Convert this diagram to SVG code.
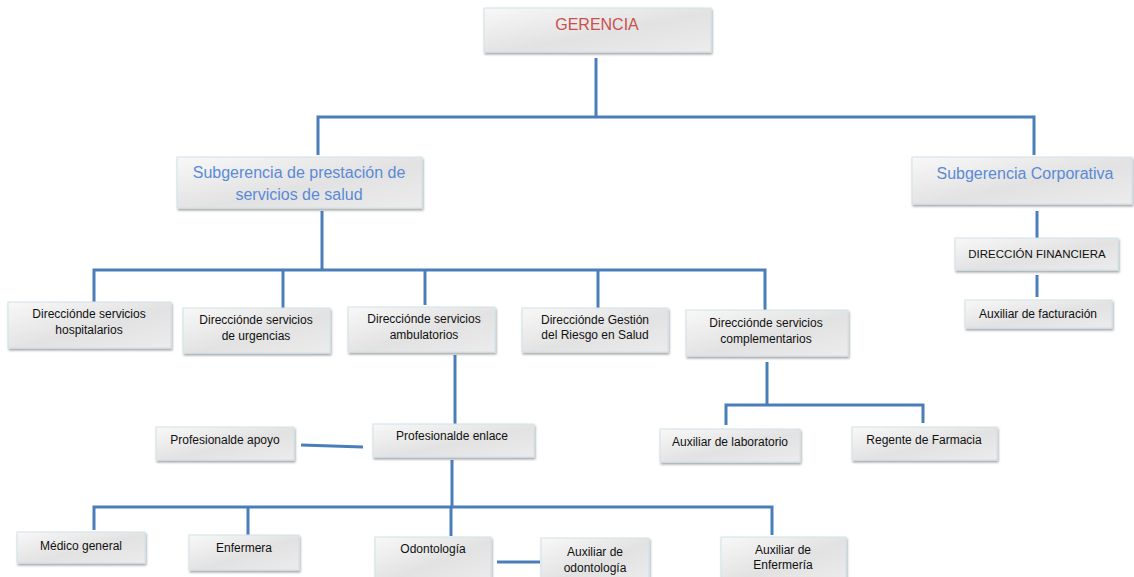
<svg xmlns="http://www.w3.org/2000/svg" width="1134" height="577" viewBox="0 0 1134 577">
<defs>
<linearGradient id="g" x1="0" y1="0" x2="1" y2="1">
<stop offset="0" stop-color="#f8f8f8"/>
<stop offset="0.55" stop-color="#e2e2e2"/>
<stop offset="1" stop-color="#ececec"/>
</linearGradient>
<filter id="sh" x="-10%" y="-20%" width="120%" height="150%">
<feDropShadow dx="1" dy="2" stdDeviation="1.2" flood-color="#000" flood-opacity="0.35"/>
</filter>
<style>
.box{fill:url(#g);stroke:#cfe3ea;stroke-width:1;filter:url(#sh)}
.c{fill:none;stroke:#4a7ebb;stroke-width:3;stroke-linejoin:miter}
.t{font-family:"Liberation Sans",Arial,sans-serif;font-size:12px;fill:#111111;text-anchor:middle}
.big{font-family:"Liberation Sans",Arial,sans-serif;font-size:16px;fill:#5a8ad6;text-anchor:middle}
.red{font-family:"Liberation Sans",Arial,sans-serif;font-size:16px;fill:#c9504d;text-anchor:middle}
</style>
</defs>
<rect width="1134" height="577" fill="#ffffff"/>
<g id="connectors">
<path class="c" d="M596 58V117"/>
<path class="c" d="M318 155V117H1034V155"/>
<path class="c" d="M1037 211V238"/>
<path class="c" d="M1037 275V297"/>
<path class="c" d="M322 211V270"/>
<path class="c" d="M94 302V270H765V310"/>
<path class="c" d="M283 270V308"/>
<path class="c" d="M425 270V305"/>
<path class="c" d="M598 270V308"/>
<path class="c" d="M455 355V425"/>
<path class="c" d="M301 445L363 447"/>
<path class="c" d="M452 460V507"/>
<path class="c" d="M94 530V507H772V535"/>
<path class="c" d="M248 507V535"/>
<path class="c" d="M451 507V536"/>
<path class="c" d="M497 562H540"/>
<path class="c" d="M767 362V405"/>
<path class="c" d="M726 425V405H923V423"/>
</g>
<g id="gerencia"><rect class="box" x="484" y="8" width="227" height="44"/><text class="red" x="597" y="30">GERENCIA</text></g>
<g id="sub-prestacion"><rect class="box" x="177" y="157" width="245" height="51"/><text class="big" x="299" y="178">Subgerencia de prestación de</text><text class="big" x="299" y="200">servicios de salud</text></g>
<g id="sub-corporativa"><rect class="box" x="912" y="157" width="220" height="47"/><text class="big" x="1025" y="179">Subgerencia Corporativa</text></g>
<g id="dir-financiera"><rect class="box" x="955" y="238" width="163" height="32"/><text class="t" x="1037" y="258" style="font-size:11.5px">DIRECCIÓN FINANCIERA</text></g>
<g id="aux-facturacion"><rect class="box" x="965" y="300" width="147" height="28"/><text class="t" x="1038" y="318">Auxiliar de facturación</text></g>
<g id="dir-hospitalarios"><rect class="box" x="8" y="302" width="163" height="46"/><text class="t" x="89" y="318">Direcciónde servicios</text><text class="t" x="89" y="334">hospitalarios</text></g>
<g id="dir-urgencias"><rect class="box" x="183" y="308" width="147" height="45"/><text class="t" x="256" y="324">Direcciónde servicios</text><text class="t" x="256" y="340">de urgencias</text></g>
<g id="dir-ambulatorios"><rect class="box" x="348" y="307" width="147" height="45"/><text class="t" x="424" y="323">Direcciónde servicios</text><text class="t" x="424" y="339">ambulatorios</text></g>
<g id="dir-riesgo"><rect class="box" x="522" y="308" width="146" height="44"/><text class="t" x="595" y="324">Direcciónde Gestión</text><text class="t" x="595" y="339">del Riesgo en Salud</text></g>
<g id="dir-complementarios"><rect class="box" x="686" y="310" width="162" height="46"/><text class="t" x="766" y="327">Direcciónde servicios</text><text class="t" x="766" y="343">complementarios</text></g>
<g id="prof-apoyo"><rect class="box" x="156" y="427" width="138" height="33"/><text class="t" x="225" y="444">Profesionalde apoyo</text></g>
<g id="prof-enlace"><rect class="box" x="373" y="424" width="161" height="33"/><text class="t" x="452" y="440">Profesionalde enlace</text></g>
<g id="aux-laboratorio"><rect class="box" x="660" y="429" width="140" height="33"/><text class="t" x="730" y="446">Auxiliar de laboratorio</text></g>
<g id="regente"><rect class="box" x="852" y="427" width="145" height="33"/><text class="t" x="924" y="444">Regente de Farmacia</text></g>
<g id="medico"><rect class="box" x="17" y="532" width="128" height="31"/><text class="t" x="81" y="550">Médico general</text></g>
<g id="enfermera"><rect class="box" x="189" y="535" width="110" height="35"/><text class="t" x="244" y="552">Enfermera</text></g>
<g id="odontologia"><rect class="box" x="375" y="537" width="116" height="45"/><text class="t" x="433" y="553">Odontología</text></g>
<g id="aux-odontologia"><rect class="box" x="541" y="538" width="108" height="44"/><text class="t" x="595" y="556">Auxiliar de</text><text class="t" x="595" y="572">odontología</text></g>
<g id="aux-enfermeria"><rect class="box" x="721" y="537" width="125" height="45"/><text class="t" x="783" y="554">Auxiliar de</text><text class="t" x="783" y="569">Enfermería</text></g>
</svg>
